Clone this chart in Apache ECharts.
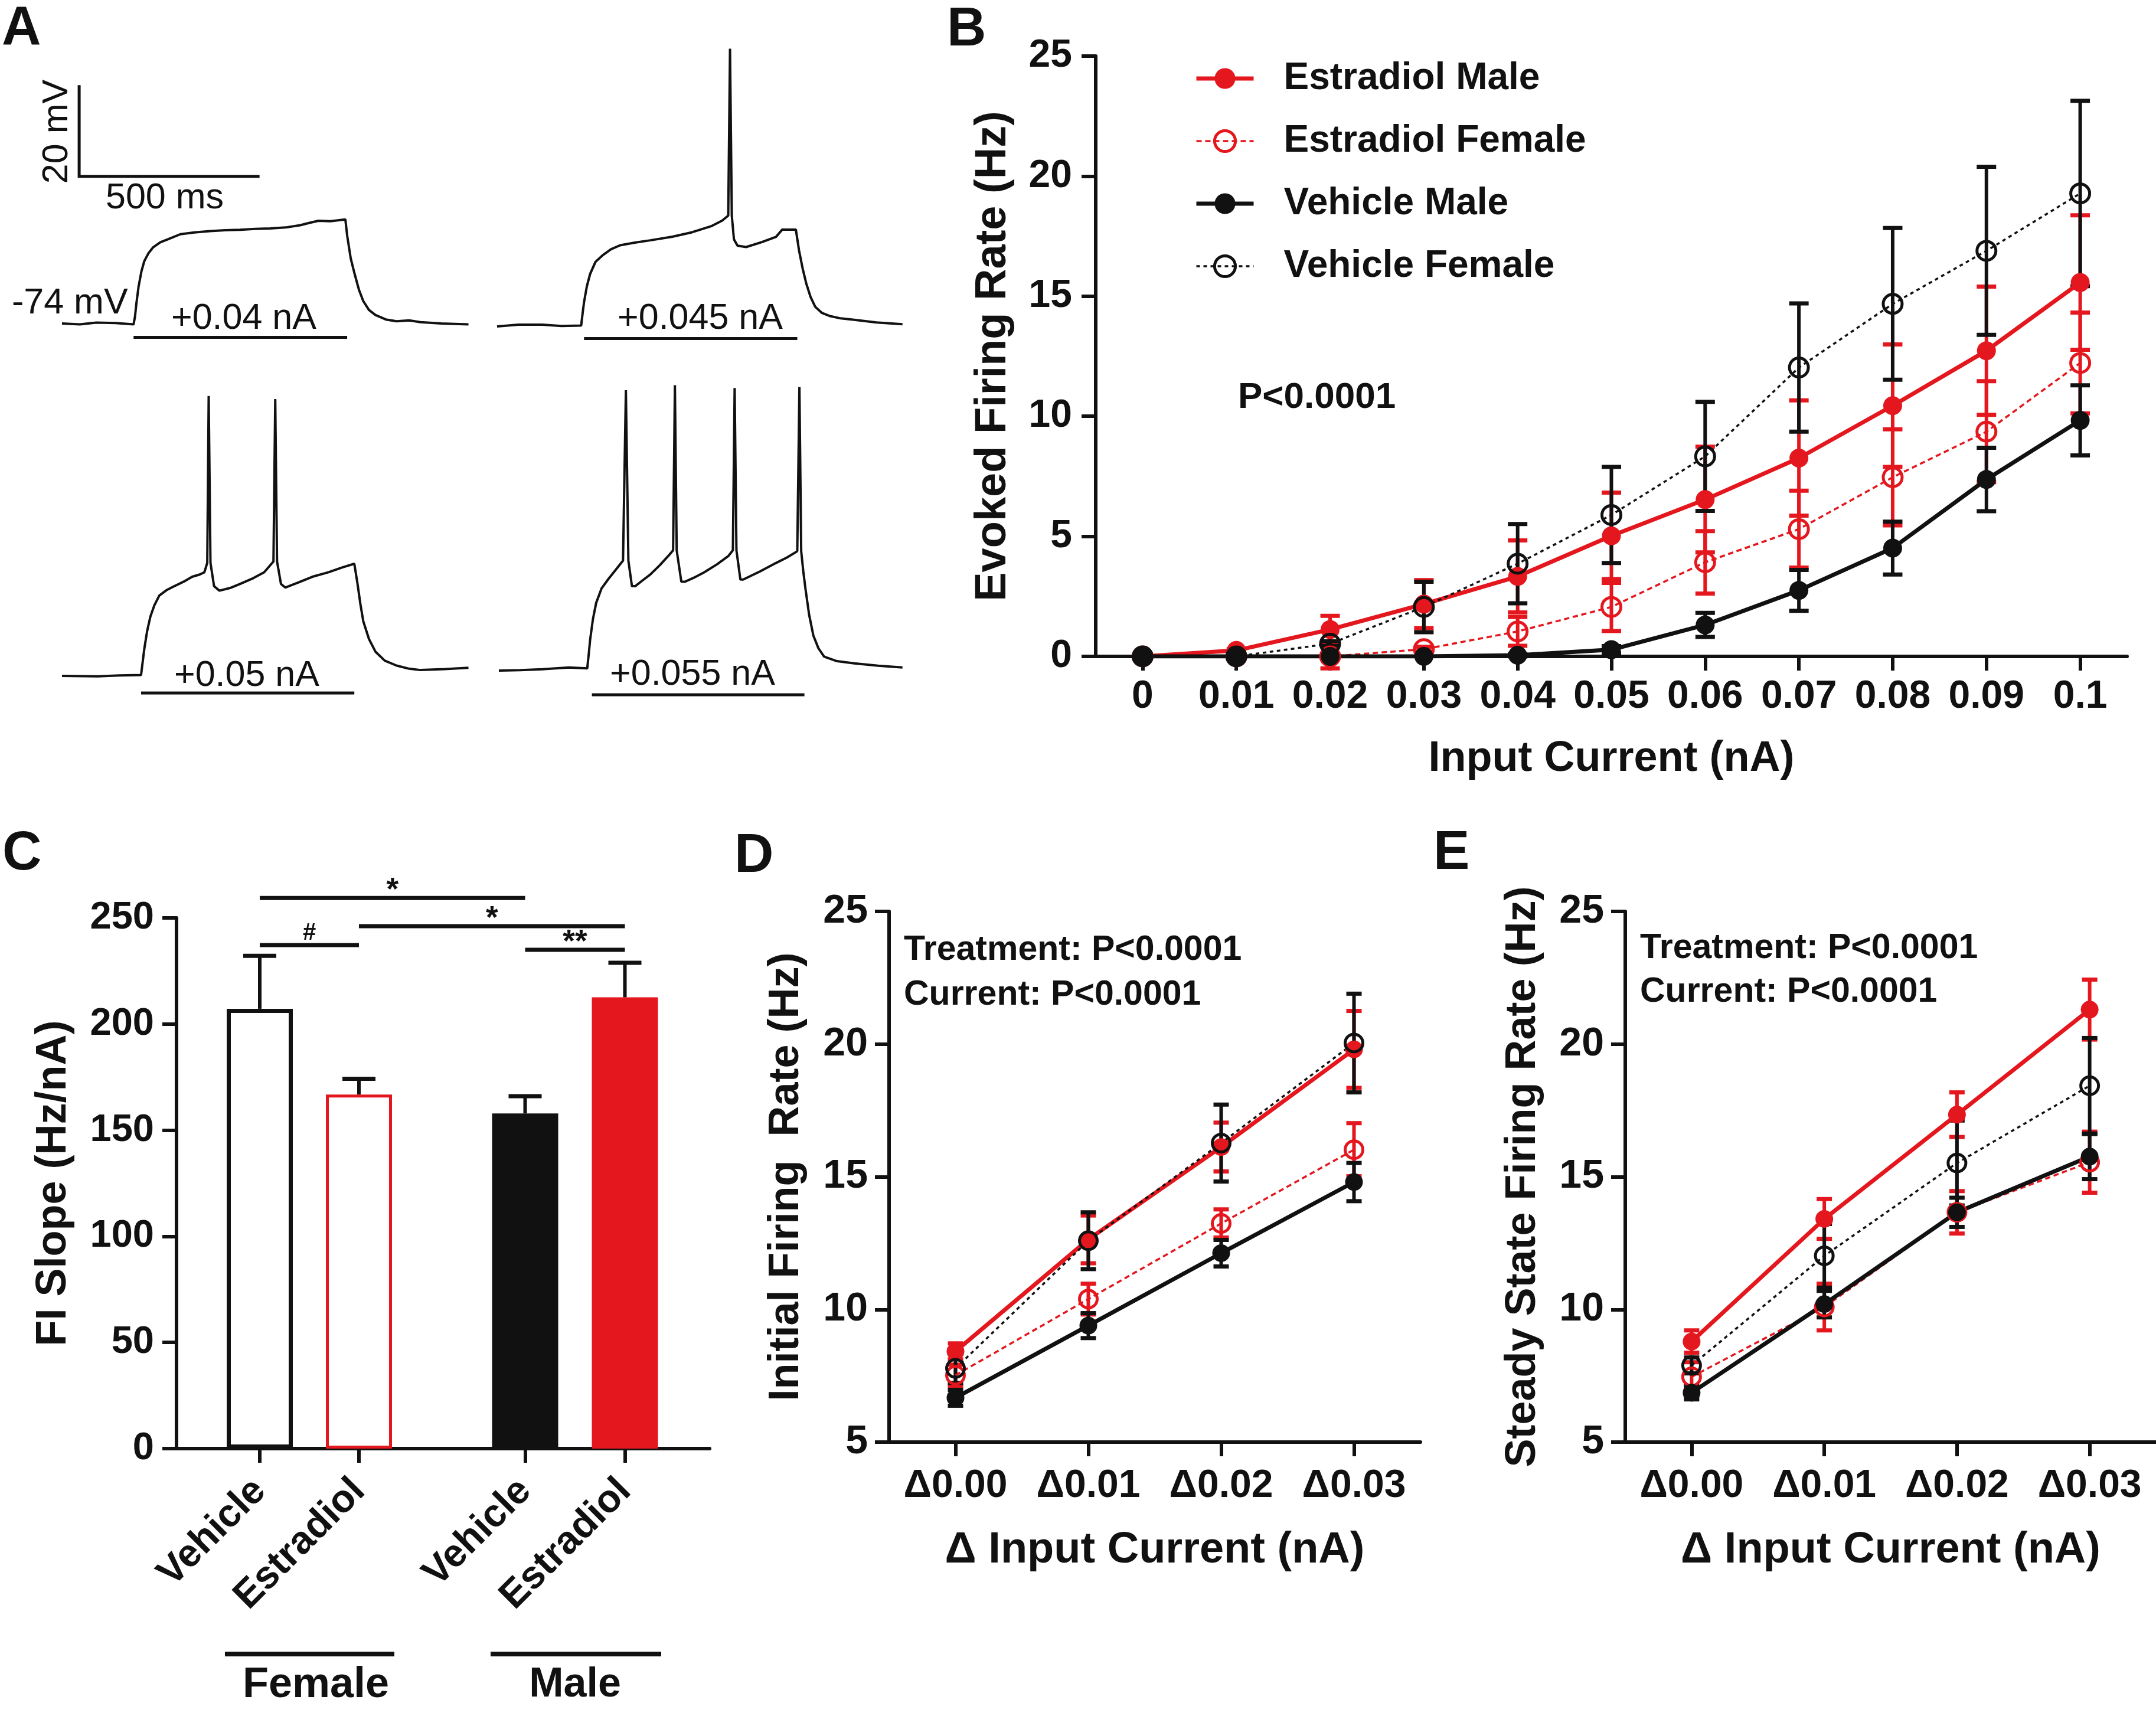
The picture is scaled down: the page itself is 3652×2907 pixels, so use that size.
<!DOCTYPE html>
<html><head><meta charset="utf-8">
<script src="https://cdn.jsdelivr.net/npm/echarts@6/dist/echarts.min.js"></script>
<style>html,body{margin:0;padding:0;background:#fff}#c{width:3652px;height:2907px}</style>
</head><body><div id="c"></div>
<script>
// ================= DATA =================
// Panel A: membrane potential traces [time ms, Vm mV]
const trace004 = [[0,-74],[50,-74.2],[96,-73.8],[150,-73.9],[200,-74.2],[204,-72.5],[208,-69.5],[214,-65.8],[222,-62.4],[230,-60.1],[242,-58.3],[255,-57.0],[275,-55.9],[297,-55.2],[331,-54.1],[370,-53.7],[414,-53.4],[456,-53.2],[498,-53.1],[540,-52.9],[582,-52.8],[625,-52.6],[666,-52.1],[690,-51.6],[717,-51.1],[750,-51.2],[792,-50.8],[797,-54.4],[807,-59.5],[817,-62.7],[830,-66.5],[842,-69.0],[858,-71],[876,-72.1],[905,-73.1],[935,-73.5],[970,-73.3],[1002,-73.7],[1060,-74.0],[1136,-74.2]];
const trace0045 = [[0,-74.4],[60,-74.0],[126,-74],[180,-74.3],[235,-74.2],[239,-71.5],[243,-69],[251,-65.4],[260,-62.7],[275,-60],[294,-58.6],[318,-57.2],[344,-56.3],[385,-55.7],[428,-55.2],[490,-54.4],[545,-53.4],[600,-52],[629,-50.8],[646,-49.7],[651,-12.5],[656,-49.7],[662,-55],[672,-56.4],[696,-56.7],[740,-55.6],[780,-54.4],[797,-52.8],[835,-52.8],[844,-57.5],[854,-61.5],[864,-64.8],[876,-67.8],[889,-70],[908,-71.4],[931,-72.1],[960,-72.6],[998,-72.9],[1060,-73.5],[1133,-73.9]];
const trace005 = [[0,-74],[100,-74.1],[160,-73.9],[221,-73.8],[225,-71.2],[230,-68],[238,-64],[247,-60.8],[258,-58.3],[272,-56.1],[292,-54.9],[314,-54],[340,-53],[364,-51.9],[385,-51.4],[398,-50.9],[406,-48.8],[410,-11.6],[415,-48.8],[425,-54],[440,-55],[470,-54.4],[498,-53.5],[535,-52.2],[565,-50.9],[591,-48.5],[596,-12.3],[601,-48.5],[612,-53.5],[624,-54.3],[660,-53.2],[700,-51.9],[745,-50.9],[784,-49.8],[817,-49],[826,-53.5],[834,-58],[842,-61.8],[858,-65.8],[876,-68.6],[902,-70.6],[935,-71.7],[970,-72.4],[1002,-72.7],[1070,-72.5],[1136,-72.2]];
const trace0055 = [[0,-74],[60,-73.9],[121,-73.7],[196,-73.3],[247,-73.5],[251,-70.5],[255,-67.2],[263,-62.5],[272,-58.9],[287,-55.7],[305,-53.7],[326,-51.6],[347,-49.5],[355,-11.5],[362,-49.5],[372,-55.2],[381,-55.2],[400,-54],[423,-52.6],[450,-50.5],[473,-48.5],[487,-47.2],[492,-10.4],[497,-47.2],[510,-54.2],[520,-54.2],[545,-53.3],[574,-52.1],[610,-50.3],[641,-48.5],[654,-47.2],[659,-11],[664,-47.2],[675,-53.7],[683,-53.7],[730,-51.9],[775,-50],[805,-48.8],[834,-47.4],[840,-10.8],[845,-47.4],[851,-52],[857,-55.8],[867,-61.5],[879,-66.2],[893,-69],[909,-70.9],[945,-71.9],[993,-72.4],[1060,-72.9],[1128,-73.3]];
const traces = [trace004, trace0045, trace005, trace0055];
// current step timing [start ms, end ms, bar level mV]
const stepBars = [[200,797,-77.1],[243,839,-77.1],[221,817,-77.8],[260,854,-79.4]];
const stepLabels = ['+0.04 nA','+0.045 nA','+0.05 nA','+0.055 nA'];
// scale bar: 500 ms x 20 mV
const scaleBar = [[48,-21.2],[48,-41.2],[548,-41.2]];

// Panel B: evoked firing rate vs input current
const currentB = ['0','0.01','0.02','0.03','0.04','0.05','0.06','0.07','0.08','0.09','0.1'];
const emB  = [0,0.25,1.12,2.18,3.33,5.02,6.53,8.26,10.44,12.73,15.57];
const emBe = [0,0.05,0.57,1.0,1.5,1.8,2.2,2.4,2.55,2.67,2.8];
const efB  = [0,0,0,0.3,1.04,2.06,3.92,5.30,7.46,9.36,12.22];
const efBe = [0,0,0.5,0.1,0.6,1.0,1.3,1.6,2.0,2.1,2.1];
const vmB  = [0,0,0,0,0.05,0.28,1.31,2.75,4.51,7.37,9.83];
const vmBe = [0,0,0,0,0.05,0.15,0.5,0.85,1.1,1.32,1.46];
const vfB  = [0,0,0.53,2.06,3.86,5.89,8.33,12.03,14.68,16.89,19.28];
const vfBe = [0,0,0.1,1.05,1.65,2.0,2.27,2.67,3.16,3.5,3.86];

// Panel C: FI slope
const groupsC = ['Female','Male'];
const treatC = ['Vehicle','Estradiol'];
const slopeC = [207.2,166.8,157.9,212.6];   // F-Veh, F-E2, M-Veh, M-E2
const slopeCe = [24.9,7.4,8.1,16.3];
// significance: [barA, barB, level, mark]
const sigC = [[0,2,259.4,'*'],[0,1,237.2,'#'],[1,3,246.1,'*'],[2,3,235.0,'**']];

// Panels D, E
const deltaX = ['\u03940.00','\u03940.01','\u03940.02','\u03940.03'];
const emD = [8.42,12.64,16.12,19.8],  emDe = [0.3,0.9,0.92,1.45];
const efD = [7.52,10.39,13.24,16.02], efDe = [0.4,0.58,0.53,1.0];
const vmD = [6.67,9.39,12.12,14.8],   vmDe = [0.3,0.47,0.5,0.72];
const vfD = [7.78,12.59,16.27,20.04], vfDe = [0.55,1.07,1.45,1.86];
const emE = [8.79,13.41,17.34,21.3],  emEe = [0.42,0.75,0.84,1.13];
const efE = [7.46,10.09,13.66,15.55], efEe = [0.55,0.88,0.8,1.15];
const vmE = [6.86,10.2,13.66,15.76],  vmEe = [0.25,0.5,0.55,0.85];
const vfE = [7.89,12.02,15.52,18.43], vfEe = [0.3,1.2,1.6,1.8];

const names = ['Estradiol Male','Estradiol Female','Vehicle Male','Vehicle Female'];

// ================= STYLE / LAYOUT =================
const RED = '#e4171e', BLK = '#111111';
const FONT = '"Liberation Sans", Arial, sans-serif';
const chart = echarts.init(document.getElementById('c'), null, {renderer:'canvas'});

const grids = [
  {left:105, top:23.6, width:697, height:646},   // 0 trace 1
  {left:842, top:25.6, width:697, height:646},   // 1 trace 2
  {left:105, top:620.6, width:697, height:646},  // 2 trace 3
  {left:845, top:611.6, width:697, height:646},  // 3 trace 4
  {left:1856, top:95, width:1747, height:1017},  // 4 B
  {left:299, top:1555, width:903, height:899},   // 5 C axes
  {left:356, top:1555, width:336, height:899},   // 6 C female
  {left:805, top:1555, width:338, height:899},   // 7 C male
  {left:1506, top:1544, width:900, height:899},  // 8 D
  {left:2753, top:1544, width:899, height:899}   // 9 E
];

const AX_W = 6;
const axisLineS = {show:true, lineStyle:{color:BLK, width:AX_W}};
const tickS = (len) => ({show:true, inside:false, length:len, lineStyle:{color:BLK, width:AX_W}});
const lbl = (size, margin, extra) => Object.assign({fontFamily:FONT, fontSize:size, fontWeight:'bold', color:BLK, margin:margin}, extra||{});
const nameS = (size) => ({fontFamily:FONT, fontSize:size, fontWeight:'bold', color:BLK});

const xAxes = [], yAxes = [];
for (let i=0;i<4;i++){
  xAxes.push({gridIndex:i, type:'value', min:0, max:1150, show:false});
  yAxes.push({gridIndex:i, type:'value', min:-90, max:-5, show:false});
}
// B
xAxes.push({gridIndex:4, type:'category', data:currentB, boundaryGap:true, axisLine:axisLineS,
  axisTick:Object.assign(tickS(24),{alignWithLabel:true, interval:0}), axisLabel:lbl(66,36,{interval:0}),
  name:'Input Current (nA)', nameLocation:'middle', nameGap:138, nameTextStyle:nameS(72)});
yAxes.push({gridIndex:4, type:'value', min:0, max:25, interval:5, axisLine:axisLineS, axisTick:tickS(24),
  axisLabel:lbl(66,40), splitLine:{show:false},
  name:'Evoked Firing Rate (Hz)', nameLocation:'middle', nameRotate:90, nameGap:136, nameTextStyle:nameS(74)});
// C axes grid
xAxes.push({gridIndex:5, type:'value', min:0, max:1, axisLine:axisLineS, axisTick:{show:false}, axisLabel:{show:false}, splitLine:{show:false}});
yAxes.push({gridIndex:5, type:'value', min:0, max:250, interval:50, axisLine:axisLineS, axisTick:tickS(24),
  axisLabel:lbl(65,38), splitLine:{show:false},
  name:'FI Slope (Hz/nA)', nameLocation:'middle', nameRotate:90, nameGap:172, nameTextStyle:nameS(72)});
// C bar grids
for (let g=6; g<=7; g++){
  xAxes.push({gridIndex:g, type:'category', data:treatC, boundaryGap:true, axisLine:{show:false},
    axisTick:Object.assign(tickS(24),{alignWithLabel:true, interval:0}), axisLabel:lbl(66,62,{rotate:45, interval:0}), splitLine:{show:false}});
  yAxes.push({gridIndex:g, type:'value', min:0, max:250, show:false});
}
// D, E
const deNames = ['Initial Firing  Rate (Hz)','Steady State Firing Rate (Hz)'];
for (let k=0;k<2;k++){
  const g = 8+k;
  xAxes.push({gridIndex:g, type:'category', data:deltaX, boundaryGap:true, axisLine:axisLineS,
    axisTick:Object.assign(tickS(24),{alignWithLabel:true, interval:0}), axisLabel:lbl(66,42,{interval:0}),
    name:'\u0394 Input Current (nA)', nameLocation:'middle', nameGap:147, nameTextStyle:nameS(74)});
  yAxes.push({gridIndex:g, type:'value', min:5, max:25, interval:5, axisLine:axisLineS, axisTick:tickS(24),
    axisLabel:lbl(68,36), splitLine:{show:false},
    name:deNames[k], nameLocation:'middle', nameRotate:90, nameGap:k===0?138:137, nameTextStyle:nameS(72)});
}

// ---------- series builders ----------
const styleFor = {
  'Estradiol Male':   {color:RED, lw:7,  dash:'solid', filled:true},
  'Estradiol Female': {color:RED, lw:3.5,dash:[9,6],  filled:false},
  'Vehicle Male':     {color:BLK, lw:7,  dash:'solid', filled:true},
  'Vehicle Female':   {color:BLK, lw:3.5,dash:[6,6],  filled:false}
};
function itemStyleOf(s){
  return s.filled ? {color:s.color, borderColor:s.color, borderWidth:0}
                  : {color:'rgba(255,255,255,0)', borderColor:s.color, borderWidth:5};
}
function lineSeries(name, grid, vals, symSize){
  const s = styleFor[name];
  return {
    type:'line', name:name, xAxisIndex:grid, yAxisIndex:grid, data:vals,
    symbol:'circle', symbolSize:symSize, showAllSymbol:true, animation:false,
    lineStyle:{color:s.color, width:s.lw, type:s.dash},
    itemStyle:itemStyleOf(s),
    z:3
  };
}
function errSeries(grid, vals, errs, color, capW, lw, oneSided){
  return {
    type:'custom', xAxisIndex:grid, yAxisIndex:grid, animation:false, silent:true, z:3,
    data: vals.map((v,i)=>[i, v, errs[i]]),
    encode:{x:0, y:1},
    renderItem:function(params, api){
      const x = api.value(0), m = api.value(1), e = api.value(2);
      if (!(e > 0)) return null;
      const top = api.coord([x, m+e]);
      const bot = api.coord([x, oneSided ? m : m-e]);
      const ch = [
        {type:'line', shape:{x1:top[0],y1:top[1],x2:bot[0],y2:bot[1]}, style:{stroke:color, lineWidth:lw}},
        {type:'line', shape:{x1:top[0]-capW/2,y1:top[1],x2:top[0]+capW/2,y2:top[1]}, style:{stroke:color, lineWidth:lw+1}}
      ];
      if (!oneSided) ch.push({type:'line', shape:{x1:bot[0]-capW/2,y1:bot[1],x2:bot[0]+capW/2,y2:bot[1]}, style:{stroke:color, lineWidth:lw+1}});
      return {type:'group', children:ch};
    }
  };
}

const series = [];
// Panel B (first so legend icons come from here)
const bSets = [[emB,emBe],[efB,efBe],[vmB,vmBe],[vfB,vfBe]];
names.forEach((n,i)=>{
  series.push(errSeries(4, bSets[i][0], bSets[i][1], styleFor[n].color, 33, 6, false));
  series.push(lineSeries(n, 4, bSets[i][0], 32));
});
// Panel D / E
const dSets = [[emD,emDe],[efD,efDe],[vmD,vmDe],[vfD,vfDe]];
const eSets = [[emE,emEe],[efE,efEe],[vmE,vmEe],[vfE,vfEe]];
[[8,dSets],[9,eSets]].forEach(([g,sets])=>{
  names.forEach((n,i)=>{
    series.push(errSeries(g, sets[i][0], sets[i][1], styleFor[n].color, 26, 6, false));
    series.push(lineSeries(n, g, sets[i][0], 30));
  });
});
// Panel A traces
traces.forEach((tr,i)=>{
  series.push({type:'line', xAxisIndex:i, yAxisIndex:i, data:tr, symbol:'none', animation:false, silent:true,
    lineStyle:{color:BLK, width:4}, z:2});
  const b = stepBars[i];
  series.push({type:'line', xAxisIndex:i, yAxisIndex:i, data:[[b[0],b[2]],[b[1],b[2]]], symbol:'none', animation:false, silent:true,
    lineStyle:{color:BLK, width:5}, z:2});
});
series.push({type:'line', xAxisIndex:0, yAxisIndex:0, data:scaleBar, symbol:'none', animation:false, silent:true,
  lineStyle:{color:BLK, width:5, cap:'square', join:'miter'}, z:2});

// Panel C bars
const barStyles = [
  {color:'#ffffff', borderColor:BLK, borderWidth:7},
  {color:'#ffffff', borderColor:RED, borderWidth:5},
  {color:BLK, borderColor:BLK, borderWidth:0},
  {color:RED, borderColor:RED, borderWidth:0}
];
[6,7].forEach((g,gi)=>{
  const vals = slopeC.slice(gi*2, gi*2+2);
  const errs = slopeCe.slice(gi*2, gi*2+2);
  series.push({type:'bar', xAxisIndex:g, yAxisIndex:g, barWidth:112, animation:false, silent:true,
    data: vals.map((v,i)=>({value:v, itemStyle:barStyles[gi*2+i]})), z:2});
  series.push(errSeries(g, vals, errs, BLK, 56, 6, true));
});

// ---------- static text / decorations ----------
function txt(x, y, s, size, weight, align, rot){
  return {type:'text', x:x, y:y, rotation:rot||0, silent:true, z:10,
    style:{text:s, font:(weight||'bold')+' '+size+'px '+FONT, fill:BLK,
      align:align||'left', verticalAlign:'middle', textAlign:align||'left', textVerticalAlign:'middle'}};
}
function seg(x1,y1,x2,y2,w){
  return {type:'line', silent:true, z:10, shape:{x1:x1,y1:y1,x2:x2,y2:y2}, style:{stroke:BLK, lineWidth:w}};
}
const graphics = [
  txt(3, 50, 'A', 92, 'bold'),
  txt(1604, 52, 'B', 92, 'bold'),
  txt(4, 1448, 'C', 92, 'bold'),
  txt(1244, 1452, 'D', 92, 'bold'),
  txt(2428, 1447, 'E', 92, 'bold'),
  // panel A labels
  txt(97, 223, '20 mV', 61, 'normal', 'center', Math.PI/2),
  txt(279, 336, '500 ms', 61, 'normal', 'center'),
  txt(20, 514, '-74 mV', 61, 'normal', 'left'),
  txt(413, 540, stepLabels[0], 61, 'normal', 'center'),
  txt(1186, 540, stepLabels[1], 61, 'normal', 'center'),
  txt(418, 1145, stepLabels[2], 61, 'normal', 'center'),
  txt(1173, 1143, stepLabels[3], 61, 'normal', 'center'),
  // B / D / E stats text
  txt(2097, 674, 'P<0.0001', 62, 'bold'),
  txt(1531, 1610, 'Treatment: P<0.0001', 59, 'bold'),
  txt(1531, 1686, 'Current: P<0.0001', 59, 'bold'),
  txt(2778, 1607, 'Treatment: P<0.0001', 59, 'bold'),
  txt(2778, 1681, 'Current: P<0.0001', 59, 'bold'),
  // C group labels
  seg(381, 2802, 668, 2802, 8),
  seg(831, 2802, 1120, 2802, 8),
  txt(535, 2855, groupsC[0], 72, 'bold', 'center'),
  txt(974, 2855, groupsC[1], 70, 'bold', 'center')
];

const option = {
  backgroundColor:'#ffffff',
  animation:false,
  textStyle:{fontFamily:FONT, color:BLK},
  grid:grids,
  xAxis:xAxes, yAxis:yAxes,
  legend:{
    data:names.map(n=>({name:n, lineStyle:{width:styleFor[n].lw, color:styleFor[n].color, type:styleFor[n].dash}, itemStyle:itemStyleOf(styleFor[n])})),
    orient:'vertical', left:2018, top:96, itemWidth:97, itemHeight:44, itemGap:42,
    selectedMode:false,
    textStyle:{fontFamily:FONT, fontSize:64, fontWeight:'bold', color:BLK, padding:[0,0,0,46]}
  },
  series:series,
  graphic:graphics
};
chart.setOption(option);

// significance bars in panel C, placed through the bar axes
function barPx(idx, val){
  const g = idx < 2 ? 6 : 7;
  return chart.convertToPixel({xAxisIndex:g, yAxisIndex:g}, [idx % 2, val]);
}
const sigGraphics = [];
sigC.forEach(([a,b,lev,mark])=>{
  const p1 = barPx(a, lev), p2 = barPx(b, lev);
  sigGraphics.push(seg(p1[0], p1[1], p2[0], p2[1], 7));
  const cx = (p1[0]+p2[0])/2;
  const isHash = mark === '#';
  sigGraphics.push(txt(cx, p1[1] - (isHash ? 20 : 12), mark, isHash ? 40 : 53, 'bold', 'center'));
});
chart.setOption({graphic: graphics.concat(sigGraphics)});
</script>
</body></html>
